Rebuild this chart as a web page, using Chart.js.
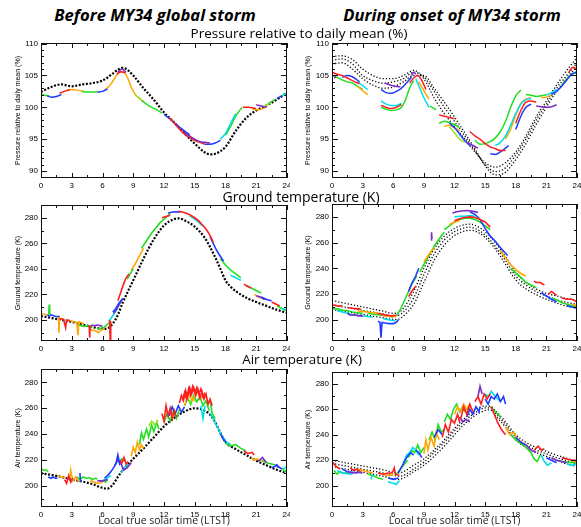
<!DOCTYPE html>
<html>
<head>
<meta charset="utf-8">
<script src="https://cdn.jsdelivr.net/npm/chart.js@4.4.1/dist/chart.umd.min.js"></script>
<style>
  html, body { margin: 0; padding: 0; background: #fff; }
  #wrap { position: relative; width: 581px; height: 527px; overflow: hidden; font-family: "Open Sans", sans-serif; }
  canvas { position: absolute; }
  .t { position: absolute; transform: translateX(-50%); white-space: nowrap; line-height: 1; color: #000; z-index: 2; }
  .big { font-weight: 700; font-style: italic; font-size: 16.6px; }
</style>
</head>
<body>
<div id="wrap">
  <div class="t big" style="left:155px; top:7px;">Before MY34 global storm</div>
  <div class="t big" style="left:452px; top:7px;">During onset of MY34 storm</div>
  <div class="t" style="left:299px; top:27px; font-size:13.5px;">Pressure relative to daily mean (%)</div>
  <div class="t" style="left:301px; top:190px; font-size:14px;">Ground temperature (K)</div>
  <div class="t" style="left:302px; top:353px; font-size:13.4px;">Air temperature (K)</div>

  <canvas id="pL" width="290" height="155" style="left:0; top:38px;"></canvas>
  <canvas id="pR" width="291" height="155" style="left:290px; top:38px;"></canvas>
  <canvas id="gL" width="290" height="156" style="left:0; top:200px;"></canvas>
  <canvas id="gR" width="291" height="157" style="left:290px; top:199px;"></canvas>
  <canvas id="aL" width="290" height="163" style="left:0; top:364px;"></canvas>
  <canvas id="aR" width="291" height="160" style="left:290px; top:367px;"></canvas>
</div>
<script>
// tick labels
const X_TICKS = [0, 3, 6, 9, 12, 15, 18, 21, 24];
const P_TICKS = [90, 95, 100, 105, 110];
const T_TICKS = [200, 220, 240, 260, 280];

// each list is [local time (h), value]; null = break between sols

// --- pressure, before storm ---
const pL_model = [[0,102.4],[1,103.2],[2,103.6],[3,103.3],[4,103.6],[5,103.8],[6,104.2],[7,105.3],[7.5,105.9],[8,106.2],[8.5,105.8],[9,105.0],[10,103.0],[11,101.2],[12,99.2],[13,97.6],[14,95.9],[15,94.3],[16,92.9],[16.5,92.6],[17,92.7],[18,93.8],[19,96.3],[20,98.3],[21,99.5],[22,100.3],[23,101.2],[24,102.3]];
const pL_green = [[0,102.1],[0.4,101.9],[0.8,101.8], null, [4,102.5],[4.5,102.4],[5,102.4],[5.5,102.4], null, [9.8,101.1],[10.3,100.5],[10.8,100.0],[11.3,99.6],[11.8,99.1], null, [18,95.6],[18.5,97.0],[19,98.6],[19.6,100.0], null, [22.2,100.6],[22.8,101.2]];
const pL_blue = [[0.6,101.8],[1,101.6],[1.5,101.7],[2,102.0], null, [5.5,102.4],[6,102.5],[6.5,102.9], null, [12,98.9],[12.5,98.3],[13,97.6],[13.5,96.9],[14,96.3],[14.5,95.7], null, [16,94.2],[16.5,94.2],[17,94.4],[17.5,94.8], null, [23,101.4],[23.5,101.8]];
const pL_red = [[1.8,102.2],[2.3,102.5],[2.8,102.8], null, [7.4,105.2],[7.8,105.6],[8.2,105.4], null, [12.5,98.4],[13,97.5],[13.5,96.6],[14,95.8],[14.5,95.3],[15,94.8],[15.5,94.5],[16,94.2], null, [19.7,100.0],[20.2,100.0],[20.7,99.9],[21,99.8]];
const pL_orange = [[2.5,102.6],[3,102.8],[3.5,102.7],[4.2,102.5], null, [6.3,102.8],[6.8,103.6],[7.2,104.6],[7.6,105.5],[8,105.6],[8.4,104.8],[8.8,103.2],[9.2,102.0],[9.6,101.4],[10,100.9], null, [20.6,99.8],[21,99.6],[21.5,99.7],[22,100.1]];
const pL_purple = [[7.5,105.5],[7.9,106.0],[8.3,105.5], null, [14,96.0],[14.5,95.5],[15,95.0],[15.5,94.6],[16,94.5],[16.5,94.4], null, [21,100.4],[21.5,100.2],[22,100.0]];
const pL_cyan = [[17.5,95.0],[18,95.9],[18.5,97.5],[19,99.0], null, [23.5,101.8],[24,102.3]];
const pL_lime = [[9.2,101.9],[9.8,101.2], null, [21.8,100.2],[22.3,100.6]];

// --- pressure, storm onset ---
const pR_modelA = [[0,108.0],[1,108.1],[2,107.5],[3,106.0],[4,105.0],[5,104.5],[6,104.5],[7,105.0],[8,105.8],[9,104.5],[10,101.5],[11,99.0],[12,97.0],[13,95.0],[14,93.0],[15,91.3],[16,90.6],[17,91.3],[18,93.0],[19,95.5],[20,98.5],[21,101.0],[22,103.5],[23,105.8],[24,107.8]];
const pR_modelB = [[0,107.4],[1,107.6],[2,106.8],[3,105.0],[4,104.2],[5,103.8],[6,104.0],[7,104.5],[8,105.5],[9,104.8],[10,102.5],[11,100.0],[12,97.8],[13,95.5],[14,93.2],[15,91.0],[16,89.9],[17,90.5],[18,92.5],[19,95.0],[20,98.0],[21,100.5],[22,103.0],[23,105.0],[24,107.0]];
const pR_modelC = [[0,106.8],[1,107.0],[2,106.0],[3,104.5],[4,103.5],[5,103.0],[6,103.2],[7,104.0],[8,105.0],[9,105.0],[10,103.0],[11,100.8],[12,98.5],[13,96.0],[14,93.5],[15,90.8],[16,89.4],[17,89.8],[18,91.8],[19,94.3],[20,97.3],[21,100.0],[22,102.5],[23,104.5],[24,106.5]];
const pR_red = [[0,105.5],[0.5,105.2],[1,105.0],[1.5,104.6],[2,104.2],[2.7,103.7], null, [4.8,100.3],[5.3,100.0],[5.8,99.8],[6.3,100.0],[6.8,100.4], null, [7.6,103.8],[8,104.6],[8.4,105.0],[8.8,104.2],[9.2,102.8], null, [10.5,98.8],[11,98.6],[11.5,98.4],[12,98.2], null, [13.5,96.2],[14,95.5],[14.5,95.0],[15,94.3],[15.5,93.8],[16,93.5],[16.5,93.2],[17,93.2], null, [18,97.5],[18.5,99.5],[19,100.8],[19.5,101.0],[20,100.8], null, [23.2,105.5],[23.6,106.3],[24,106.0]];
const pR_green = [[0,105.0],[0.5,104.7],[1,104.3],[1.5,104.0],[2,103.8],[2.5,103.3],[3,102.8], null, [4.8,100.0],[5.3,99.7],[5.8,99.5],[6.3,99.6],[6.8,100.0],[7.2,101.2],[7.6,103.0],[8,104.2], null, [9.6,100.2],[10.2,99.6], null, [10.5,97.5],[11,97.8],[11.5,97.6],[12,97.3],[12.5,96.8], null, [14,94.8],[14.5,94.2],[15,94.3],[15.5,94.6],[16,95.2],[16.5,96.2],[17,97.8],[17.5,100.0],[18,101.8],[18.5,102.7], null, [19,102.0],[19.5,101.9],[20,101.7],[20.5,101.8],[21,102.0], null, [22.5,103.5],[23,104.5],[23.5,105.2],[24,105.4]];
const pR_blue = [[1,104.7],[1.5,105.0],[2,104.8],[2.7,104.0], null, [4.8,102.8],[5.3,102.3],[5.8,102.2],[6.3,102.5],[6.8,103.0],[7.4,104.0],[7.8,104.8], null, [11.5,97.5],[12,96.8],[12.5,95.8],[13,94.8],[13.5,94.0], null, [15.5,92.7],[16,92.6],[16.5,93.0],[17,93.6],[17.3,94.0], null, [18,96.5],[18.5,98.6],[19,100.0],[19.5,100.5], null, [21.5,102.0],[22,102.5],[22.5,103.3],[23,104.3],[23.5,105.2],[24,105.6]];
const pR_cyan = [[2.5,104.0],[3,103.4],[3.5,102.8], null, [4.8,101.0],[5.3,100.5],[5.8,100.3],[6.3,100.3],[6.8,100.6], null, [8.2,104.5],[8.6,103.0],[9,101.5],[9.5,100.0], null, [16,94.0],[16.5,94.5],[17,95.5],[17.5,97.2],[18,99.0],[18.5,100.5],[19,101.2],[19.5,101.4], null, [21,101.9],[21.5,102.3],[22,102.8]];
const pR_orange = [[2.5,103.3],[3,102.6],[3.5,102.0], null, [8.5,104.0],[9,102.6],[9.5,101.3], null, [11,97.0],[11.5,97.2],[12,96.8],[12.5,96.3], null, [17,95.0],[17.5,96.6],[18,98.8],[18.5,100.6],[19,101.3],[19.5,101.5], null, [20.5,101.5],[21,101.6],[21.5,101.9]];
const pR_purple = [[0.2,104.6],[0.4,104.8], null, [5.2,103.8],[5.7,103.5],[6.2,103.3],[6.7,103.2], null, [7.8,105.0],[8,105.5],[8.2,105.2], null, [13.2,94.5],[13.8,94.0],[14.3,93.6], null, [20,100.2],[20.5,100.1],[21,100.0],[21.5,100.1],[22,100.4]];
const pR_lime = [[11.5,97.0],[12,96.0],[12.5,95.0],[13,94.5]];

// --- ground temperature, before storm ---
const gL_model = [[0,203],[1,201.5],[2,200],[3,198.5],[4,196.5],[5,194.5],[6,193],[6.5,193.5],[7,197],[7.5,204],[8,214],[9,231],[10,248],[11,263],[12,274],[13,279],[13.5,279.5],[14,278],[15,273],[16,264],[16.5,257],[17,249],[17.5,240],[18,231],[18.5,226],[19,222.5],[20,217.5],[21,214],[22,211],[23,208],[24,205.5]];
const gL_orange = [[0,205],[0.3,204.5],[0.6,204], null, [1.7,203],[1.75,190],[1.8,202], null, [2.8,199.5],[3.2,198.5],[3.5,198],[3.6,188],[3.7,198.5],[4.2,197], null, [4.8,193],[5.0,192],[5.3,191.5],[5.6,190],[5.8,192],[6.0,192.5],[6.2,193], null, [8.8,239],[9.2,244],[9.6,250],[10,256], null, [20.8,220],[21.2,218],[21.6,217],[22,216]];
const gL_blue = [[0.6,204],[0.8,203],[1.0,204],[1.3,203],[1.6,202.5],[1.8,203], null, [7.0,206],[7.3,209],[7.6,213],[8,217], null, [12.4,283.5],[12.8,284.5],[13.2,284.7],[13.6,284.5], null, [16.5,265],[16.8,260],[17.1,255],[17.4,251],[17.8,246], null, [21.5,218],[22,216],[22.5,215]];
const gL_green = [[0.75,204],[0.8,212],[0.85,204], null, [3.7,196],[4.2,195],[4.6,195.5],[5,194], null, [5.5,193],[5.8,193.5],[6.1,194],[6.4,196],[6.7,198], null, [8.4,232],[8.7,236],[9,240], null, [9.8,256],[10.3,262],[10.8,268],[11.2,272],[11.6,276],[12,279],[12.3,281],[12.6,283], null, [17.5,248],[18,243],[18.5,239],[19,236],[19.5,233], null, [20,227],[20.5,225],[21,223],[21.5,221], null, [23,211],[23.5,209],[24,207]];
const gL_red = [[1.8,201],[2.2,200.5],[2.4,194],[2.5,200],[2.8,199.5], null, [4.7,196],[4.75,186],[4.8,195], null, [6.7,200],[6.75,184],[6.8,199], null, [7.5,215],[7.8,222],[8.1,229],[8.3,233],[8.6,236], null, [11.8,280],[12.2,281],[12.6,282], null, [13.4,285],[13.8,284.5],[14.2,283.5],[14.6,282],[15,280],[15.4,277.5],[15.8,274],[16.2,270],[16.5,266],[16.8,261], null, [19.8,228],[20.1,226.5],[20.5,225], null, [22.5,214],[22.9,212.5],[23.3,211]];
const gL_purple = [[4.9,196],[5.2,195.5],[5.5,196],[5.8,195.5],[6,195], null, [7.1,205],[7.5,210],[7.9,216], null, [21,219],[21.4,218],[21.8,216]];
const gL_cyan = [[6.6,199],[6.9,202],[7.2,206],[7.5,209], null, [14.5,281.5],[14.9,279.5],[15.3,277],[15.8,273.5], null, [18.5,235],[19,233],[19.5,231], null, [23.5,209],[24,208]];

// --- ground temperature, storm onset ---
const gR_modelA = [[0,215],[1,213.3],[2,211.7],[3,210],[4,208.3],[5,206.7],[6,205],[6.5,205.5],[7,209],[8,222],[9,240],[10,255],[11,265],[12,271],[13,274],[13.5,274.3],[14,273.5],[15,268.5],[16,260],[17,249],[18,237],[19,229],[20,224],[21,220.5],[22,218.5],[23,216.5],[24,215]];
const gR_modelB = [[0,211.5],[1,210.1],[2,208.8],[3,207.3],[4,205.9],[5,204.5],[6,203],[6.5,203.5],[7,206],[8,217],[9,235],[10,251],[11,262],[12,268.5],[13,271.5],[13.5,272],[14,271],[15,266],[16,257],[17,246],[18,234],[19,227],[20,222],[21,218.5],[22,215.5],[23,213.5],[24,212]];
const gR_modelC = [[0,208],[1,206.7],[2,205.5],[3,204.2],[4,202.9],[5,201.6],[6,200.3],[6.5,200.5],[7,203],[8,212],[9,229],[10,246],[11,258],[12,265.5],[13,269],[13.5,269.5],[14,269],[15,264],[16,255],[17,243],[18,231],[19,224],[20,219.5],[21,216],[22,213],[23,210.5],[24,209]];
const gR_red = [[0,211],[0.3,211.5],[0.6,210.5],[1,211], null, [1.5,209.5],[2,209],[2.5,208.5],[2.8,208.5], null, [4.5,205],[5,204],[5.5,203.5],[5.8,203],[6.3,203.5], null, [7.5,218],[7.8,222],[8.2,226], null, [12,277],[12.5,278.5],[13,279.5],[13.5,280],[14,279.5],[14.5,278],[15,276],[15.5,272], null, [19.8,230],[20,229],[20.4,229],[20.8,227], null, [21.2,220],[21.5,222],[22,219], null, [22.5,217],[23,216],[23.5,216],[24,214]];
const gR_green = [[0,209],[0.5,208.5],[1,207.5],[1.5,207],[2,206],[2.5,205.5],[3,205], null, [3.5,205],[4,204.5],[4.5,204],[5,203.5],[5.5,203],[6,202], null, [6.3,203],[6.7,208],[7.1,215],[7.5,222],[7.9,229],[8.3,234], null, [8.6,237],[9,243],[9.5,250],[10,257],[10.5,263],[11,268], null, [11,270],[11.5,273],[12,276],[12.5,278],[13,279],[13.5,279],[14,278],[14.5,276],[15,273],[15.5,270], null, [17.5,240],[18,236.5],[18.5,233],[19,229],[19.5,227],[20,225], null, [21.5,217],[22,215.5],[22.5,213.5],[23,212],[23.5,211],[24,210]];
const gR_cyan = [[0.5,207],[1,206],[1.5,205],[2,204],[2.5,203.5],[3,203],[3.5,202.5],[4,202], null, [5,201],[5.5,200],[6,199.5],[6.2,199], null, [12,280],[12.5,280.5],[13,280.5],[13.5,281],[14,280.5]];
const gR_purple = [[1.5,205],[1.8,203.5],[2.2,204],[2.6,203],[3,203], null, [9.7,262],[9.75,268],[9.8,263], null, [11.8,283],[12.2,284],[12.7,284.5],[13.2,285],[13.7,284.5],[14.3,283.5]];
const gR_orange = [[2.5,207],[3,206.5],[3.5,206],[4,205.5],[4.5,205.5], null, [5,203],[5.5,202.8],[6,202.5],[6.3,202.5], null, [9,245],[9.5,251],[10,256], null, [11.5,274],[12,276],[12.5,277], null, [16.5,254],[17,248],[17.5,243],[18,239],[18.5,236],[19,234], null, [23.5,212],[24,211]];
const gR_blue = [[4.5,199],[4.7,198],[4.8,186],[4.9,198],[5.2,197.5],[5.6,197],[6,197],[6.3,198],[6.5,200], null, [7.5,222],[7.8,228],[8.2,234],[8.5,240], null, [13.5,284],[14,282],[14.5,278],[15,271],[15.5,265],[16,261],[16.5,256],[17.2,250], null, [20.5,221],[21,218.5],[21.5,216],[22,214], null, [23,211],[23.5,210],[24,209]];

// --- air temperature, before storm ---
const aL_model = [[0,209.8],[1,208.5],[2,207],[3,205],[4,203.5],[5,201.5],[6,198.5],[6.5,198],[7,201],[7.5,207],[8,212.5],[9,221],[10,229],[11,237.5],[12,246],[13,252.5],[14,257.5],[15,260],[15.5,259.5],[16,258],[16.5,255],[17,249],[17.5,241],[18,234],[19,228.5],[20,224],[21,219.5],[22,216],[23,212.5],[24,210]];
const aL_green = [[0,213.5],[0.3,212],[0.5,212.5],[0.7,211], null, [3.5,207],[3.8,205],[4.1,207],[4.4,206],[4.7,206.5],[5,205],[5.3,206],[5.5,205.5], null, [5.8,203],[6,204],[6.3,203],[6.5,205], null, [7.6,218],[7.9,221],[8.2,219], null, [9.6,232],[9.8,241],[10,236],[10.3,244],[10.5,238],[10.8,247],[11,242],[11.3,249],[11.5,244], null, [12,249],[12.3,256],[12.6,250],[12.9,258],[13.2,252],[13.5,259], null, [14,262],[14.3,268],[14.6,263],[14.9,270],[15.2,265],[15.5,269],[15.8,262],[16.1,266],[16.4,258], null, [16.5,266],[16.7,256],[17,252], null, [18,233],[18.5,231],[19,232],[19.5,229],[20,227], null, [21.5,220],[22,218],[22.5,217],[23,216], null, [23.5,214],[23.8,211],[24,213]];
const aL_blue = [[0.7,207],[1,206],[1.2,207],[1.4,206],[1.6,206], null, [3.8,210],[3.85,203], null, [6.2,206],[6.6,209],[7,213],[7.3,217],[7.5,224],[7.7,216], null, [12.5,254],[12.8,261],[13.1,256],[13.4,262],[13.7,257],[14,261], null, [17.5,240],[17.8,236],[18,234], null, [22.5,214],[23,216],[23.5,213]];
const aL_orange = [[1.6,208],[2,207],[2.4,206.5], null, [2.8,205],[2.9,212],[3.1,204],[3.4,207],[3.7,203], null, [4.8,204],[5.2,203],[5.6,202],[6,203], null, [8.8,223],[9.0,230],[9.2,226],[9.4,234],[9.6,228],[9.8,232],[10,229], null, [14,262],[14.4,270],[14.8,266],[15.2,273],[15.6,268],[16,270], null, [20.5,222],[20.8,220],[21.1,221],[21.5,219]];
const aL_red = [[2.3,205],[2.5,202],[2.7,208],[2.9,203],[3.1,206], null, [7.7,220],[7.9,218],[8.1,222],[8.3,217],[8.5,219], null, [11.8,256],[12,250],[12.2,262],[12.4,254],[12.6,260],[12.8,252],[13.0,258],[13.2,253], null, [13.5,264],[13.7,270],[13.9,266],[14.1,274],[14.3,269],[14.5,276],[14.7,271],[14.9,276],[15.1,270],[15.3,275],[15.5,268],[15.7,273],[15.9,267],[16.1,271],[16.3,263],[16.5,267],[16.7,262], null, [19.8,227],[20.2,225],[20.6,226],[20.8,224]];
const aL_red2 = [[13.8,266],[14,272],[14.2,267],[14.4,275],[14.6,270],[14.8,277],[15,272],[15.2,276],[15.4,271],[15.6,275],[15.8,269],[16,272]];
const aL_purple = [[2.5,206],[2.9,205], null, [5.5,204],[6,204],[6.5,205], null, [7.2,216],[7.5,220],[7.8,218],[8,213], null, [8.0,212],[8.4,214],[8.8,218], null, [21.2,219],[21.6,222],[22,218], null, [23,217],[23.1,214]];
const aL_cyan = [[6,204],[6.4,206],[6.8,208], null, [7.8,210],[8.1,214],[8.5,217], null, [15.6,262],[15.8,252],[16,262], null, [16.5,256],[16.9,250],[17.3,244],[17.7,238],[18.1,234],[18.5,232], null, [23.6,213],[24,215]];
const aL_lime = [[10.5,246],[10.8,250],[11.1,247],[11.4,251], null, [14.5,264],[14.8,268],[15.1,265]];

// --- air temperature, storm onset ---
const aR_modelA = [[0,220],[1,218.5],[2,217],[3,215.5],[4,214],[5,212.5],[6,210.5],[6.5,210],[7,211],[8,216],[9,221],[10,228],[11,236],[12,245],[13,253],[14,259],[15,262.5],[15.5,262.5],[16,259],[17,250],[18,240],[19,234],[20,230],[21,227],[22,224],[23,221.5],[24,219]];
const aR_modelB = [[0,217.5],[1,216],[2,214.5],[3,213],[4,211.5],[5,210],[6,208],[6.5,207.5],[7,208],[8,213],[9,218.5],[10,226],[11,234],[12,243],[13,251],[14,257],[15,261],[15.5,261],[16,257],[17,248],[18,238],[19,232],[20,228],[21,225],[22,222],[23,219.5],[24,217]];
const aR_modelC = [[0,215],[1,213.5],[2,212],[3,210.5],[4,209],[5,207.5],[6,205.5],[6.5,205],[7,206],[8,211],[9,216],[10,223],[11,231],[12,240],[13,248.5],[14,255],[15,259],[15.5,259.5],[16,255],[17,246],[18,236],[19,230],[20,226],[21,223],[22,220],[23,217],[24,215]];
const aR_red = [[0,219],[0.3,216],[0.6,214],[0.8,213], null, [1.8,214],[2.1,212],[2.4,213],[2.8,211], null, [4.5,210],[5,209],[5.5,210],[5.9,210],[6.1,214],[6.2,209],[6.6,208], null, [10.8,238],[11.1,248],[11.4,242],[11.7,252],[12,249],[12.3,256],[12.5,250], null, [12.6,252],[12.9,262],[13.2,256],[13.5,264],[13.8,258], null, [14,266],[14.3,270],[14.6,264],[14.9,272],[15.2,268],[15.5,272], null, [15.6,262],[15.9,256],[16.2,250],[16.6,244],[17,240], null, [19.8,228],[20.2,231],[20.5,228],[20.8,229], null, [22.5,222],[23,221],[23.5,220],[24,220]];
const aR_green = [[0.2,212],[0.5,209],[0.8,211],[1.1,210],[1.5,210], null, [3.5,209],[4,208],[4.5,206],[5,205], null, [6.2,208],[6.6,212],[7,216],[7.4,220], null, [7.5,222],[7.8,228],[8.1,226],[8.4,232],[8.7,226],[9,230], null, [9.5,236],[9.8,242],[10.1,236],[10.4,248],[10.7,242],[11,244], null, [11,250],[11.3,256],[11.6,252],[11.9,260],[12.2,264],[12.5,258],[12.8,262],[13,258], null, [15.5,262],[16,258],[16.5,254], null, [17.5,240],[18,236],[18.5,233],[19,230],[19.5,226],[19.8,221],[20.1,219],[20.4,224], null, [22,220],[22.5,219],[23,218.5],[23.5,218],[24,218]];
const aR_cyan = [[0.5,212],[1,210],[1.5,209.5],[2,209], null, [3.8,205],[4,209], null, [5.5,203],[6,202],[6.3,201],[6.6,204], null, [7,218],[7.3,224],[7.6,226],[7.9,230],[8.2,228],[8.5,224], null, [15,272],[15.3,270],[15.6,274],[16,270],[16.5,266], null, [20.5,224],[20.8,219],[21.1,216],[21.5,218], null, [23,217],[23.5,216],[24,217]];
const aR_blue = [[1,213],[1.5,211],[2,210.5],[2.5,210], null, [5.5,206],[6,205],[6.5,206], null, [6.5,210],[6.9,216],[7.3,222],[7.7,226],[8,224], null, [8.2,228],[8.5,226],[8.8,222], null, [10,238],[10.4,244],[10.8,240], null, [13.2,254],[13.5,260],[13.8,256],[14.1,262],[14.4,258],[14.5,262], null, [15,268],[15.3,264],[15.6,270],[15.9,268],[16.2,272],[16.5,266],[16.8,270],[17,264], null, [18,238],[18.5,234],[19,232], null, [21,222],[21.5,220],[22,218]];
const aR_orange = [[2.5,213],[3,212],[3.5,211],[4,210], null, [5,209],[5.5,208],[6,208.5], null, [9,225],[9.2,236],[9.4,228],[9.7,238],[10,231],[10.2,242],[10.5,236], null, [12,256],[12.3,262],[12.6,258],[12.9,264],[13.2,260],[13.5,264], null, [17,246],[17.4,240],[17.8,242],[18.2,236],[18.6,234],[19,232], null, [23.5,219],[24,219.5]];
const aR_purple = [[1.5,211],[2,210],[2.5,210.5],[3,210], null, [12.5,254],[12.8,250],[13.1,252],[13.5,250], null, [14.3,270],[14.5,278],[14.7,272], null, [19,232],[19.5,228],[20,226], null, [21.5,222],[22,220],[22.5,219],[23,218]];

const C = {
  blue: "#1e3cff", red: "#ff1e1e", green: "#22dd22", orange: "#ffa600",
  cyan: "#00dde8", purple: "#7d2cc8", lime: "#9ae22a"
};

function pts(pairs) {
  return pairs.map((p, i) => p === null ? { x: pairs[i - 1][0], y: null } : { x: p[0], y: p[1] });
}

// box + inward ticks on all four sides, like the original plots
const frame = {
  id: "frame",
  afterDatasetsDraw(chart, args, o) {
    const { ctx, chartArea: a, scales: { x, y } } = chart;
    ctx.save();
    ctx.strokeStyle = "#111";
    ctx.lineWidth = 1;
    ctx.beginPath();
    for (let h = 0; h <= 24; h += 1.5) {
      const px = Math.round(x.getPixelForValue(h)) + 0.5;
      const len = h % 3 === 0 ? 5 : 3;
      ctx.moveTo(px, a.bottom); ctx.lineTo(px, a.bottom - len);
      ctx.moveTo(px, a.top); ctx.lineTo(px, a.top + len);
    }
    const start = Math.ceil(y.min / o.minor) * o.minor;
    for (let v = start; v <= y.max; v += o.minor) {
      const py = Math.round(y.getPixelForValue(v)) + 0.5;
      const len = Math.abs(v % o.major) < 1e-6 ? 6 : 3;
      ctx.moveTo(a.left, py); ctx.lineTo(a.left + len, py);
      ctx.moveTo(a.right, py); ctx.lineTo(a.right - len, py);
    }
    ctx.stroke();
    ctx.strokeRect(Math.round(a.left) + 0.5, Math.round(a.top) + 0.5, Math.round(a.width) - 1, Math.round(a.height) - 1);
    ctx.restore();
  }
};

const panels = [
  { id: "pL", yMin: 88.9, yMax: 110.1, yTicks: P_TICKS, minor: 1, major: 5, yTitle: "Pressure relative to daily mean (%)",
    smooth: true, xH: 15, yW: 41, padR: 3, dash: [2, 1.6], mW: 2.2,
    models: [pL_model],
    series: [[C.purple, pL_purple], [C.red, pL_red], [C.blue, pL_blue], [C.cyan, pL_cyan], [C.green, pL_green], [C.lime, pL_lime], [C.orange, pL_orange]] },
  { id: "pR", yMin: 88.9, yMax: 110.1, yTicks: P_TICKS, minor: 1, major: 5, yTitle: "Pressure relative to daily mean (%)",
    smooth: true, xH: 15, yW: 42, padR: 4, dash: [1.2, 2], mW: 1.3,
    models: [pR_modelA, pR_modelB, pR_modelC],
    series: [[C.purple, pR_purple], [C.red, pR_red], [C.blue, pR_blue], [C.cyan, pR_cyan], [C.orange, pR_orange], [C.lime, pR_lime], [C.green, pR_green]] },
  { id: "gL", yMin: 183.5, yMax: 290, yTicks: T_TICKS, minor: 10, major: 20, yTitle: "Ground temperature (K)",
    smooth: false, xH: 15, yW: 41, padR: 3, dash: [2, 1.6], mW: 2.2,
    models: [gL_model],
    series: [[C.red, gL_red], [C.blue, gL_blue], [C.purple, gL_purple], [C.cyan, gL_cyan], [C.green, gL_green], [C.orange, gL_orange]] },
  { id: "gR", yMin: 183.5, yMax: 290, yTicks: T_TICKS, minor: 10, major: 20, yTitle: "Ground temperature (K)",
    smooth: false, xH: 15, yW: 42, padR: 4, dash: [1.2, 2], mW: 1.3,
    models: [gR_modelA, gR_modelB, gR_modelC],
    series: [[C.red, gR_red], [C.purple, gR_purple], [C.blue, gR_blue], [C.orange, gR_orange], [C.cyan, gR_cyan], [C.green, gR_green]] },
  { id: "aL", yMin: 183.8, yMax: 290.3, yTicks: T_TICKS, minor: 10, major: 20, yTitle: "Air temperature (K)",
    smooth: false, xH: 20, yW: 41, padR: 3, dash: [2, 1.6], mW: 2.2, xTitle: true,
    models: [aL_model],
    series: [[C.red, aL_red], [C.red, aL_red2], [C.blue, aL_blue], [C.purple, aL_purple], [C.cyan, aL_cyan], [C.orange, aL_orange], [C.lime, aL_lime], [C.green, aL_green]] },
  { id: "aR", yMin: 183.3, yMax: 289.2, yTicks: T_TICKS, minor: 10, major: 20, yTitle: "Air temperature (K)",
    smooth: false, xH: 20, yW: 42, padR: 4, dash: [1.2, 2], mW: 1.3, xTitle: true,
    models: [aR_modelA, aR_modelB, aR_modelC],
    series: [[C.red, aR_red], [C.purple, aR_purple], [C.blue, aR_blue], [C.cyan, aR_cyan], [C.orange, aR_orange], [C.green, aR_green]] }
];

const tickFont = { family: "'Liberation Sans', Arial, sans-serif", size: 8 };

panels.forEach(p => {
  const datasets = p.series.map(([color, pairs]) => ({
    data: pts(pairs),
    borderColor: color,
    borderWidth: p.smooth ? 1.5 : 1.6,
    pointRadius: 0,
    tension: p.smooth ? 0.4 : 0,
    cubicInterpolationMode: p.smooth ? "monotone" : "default",
    spanGaps: false
  }));
  p.models.forEach(m => datasets.push({
    data: pts(m),
    borderColor: "#000",
    borderWidth: p.mW,
    borderDash: p.dash,
    pointRadius: 0,
    cubicInterpolationMode: "monotone",
    spanGaps: false
  }));

  new Chart(document.getElementById(p.id), {
    type: "line",
    data: { datasets },
    plugins: [frame],
    options: {
      responsive: false,
      animation: false,
      devicePixelRatio: 1,
      layout: { padding: { top: 5, right: p.padR, left: 0, bottom: 0 } },
      plugins: { legend: { display: false }, tooltip: { enabled: false }, frame: { minor: p.minor, major: p.major } },
      scales: {
        x: {
          type: "linear", min: 0, max: 24,
          grid: { display: false, drawTicks: false }, border: { display: false },
          afterBuildTicks: s => { s.ticks = X_TICKS.map(v => ({ value: v })); },
          afterFit: s => { s.height = p.xH; s.paddingLeft = 0; s.paddingRight = 0; },
          ticks: { color: "#000", font: tickFont, padding: 3, maxRotation: 0, autoSkip: false },
          title: {
            display: !!p.xTitle, text: "Local true solar time (LTST)", color: "#222",
            font: { family: "'Open Sans', sans-serif", size: 10.5 }, padding: { top: 0, bottom: 0 }
          }
        },
        y: {
          min: p.yMin, max: p.yMax,
          grid: { display: false, drawTicks: false }, border: { display: false },
          afterBuildTicks: s => { s.ticks = p.yTicks.map(v => ({ value: v })); },
          afterFit: s => { s.width = p.yW; s.paddingTop = 0; s.paddingBottom = 0; },
          ticks: { color: "#000", font: tickFont, padding: 3 },
          title: {
            display: true, text: p.yTitle, color: "#000",
            font: { family: "'Liberation Sans', Arial, sans-serif", size: 7 }, padding: { top: 14, bottom: 0 }
          }
        }
      }
    }
  });
});
</script>
</body>
</html>
